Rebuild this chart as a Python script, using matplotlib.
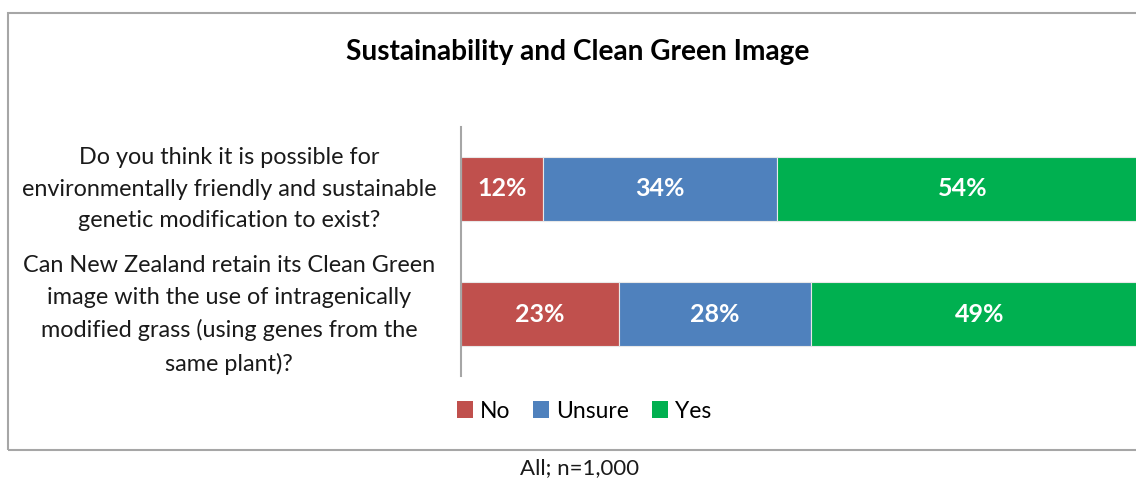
import matplotlib.pyplot as plt
from matplotlib.patches import Rectangle, Patch

plt.rcParams['font.family'] = ['Lato', 'DejaVu Sans']

questions = [
    "Do you think it is possible for\nenvironmentally friendly and sustainable\ngenetic modification to exist?",
    "Can New Zealand retain its Clean Green\nimage with the use of intragenically\nmodified grass (using genes from the\nsame plant)?",
]
series_names = ["No", "Unsure", "Yes"]
no = [12, 23]
unsure = [34, 28]
yes = [54, 49]
colors = ["#C0504D", "#4F81BD", "#00B050"]

W, H = 1136, 480
fig = plt.figure(figsize=(W / 100, H / 100), dpi=100)

# outer frame (right side runs off the picture, like the source)
fig.patches.append(Rectangle((8 / W, 1 - 450 / H), 1.2, 437 / H, transform=fig.transFigure,
                             fill=False, edgecolor="#a6a6a6", linewidth=1.5, clip_on=False))

ax = fig.add_axes([461 / W, 1 - 376 / H, 687 / W, 249 / H])
ypos = list(range(len(questions)))
left = [0] * len(questions)
for name, vals, c in zip(series_names, [no, unsure, yes], colors):
    bars = ax.barh(ypos, vals, left=left, height=0.512, color=c, edgecolor="#e8e8e8",
                   linewidth=0.8, label=name)
    for b, v in zip(bars, vals):
        ax.text(b.get_x() + b.get_width() / 2, b.get_y() + b.get_height() / 2, f"{v}%",
                ha="center", va="center", color="white", fontsize=18, fontweight="bold")
    left = [l + v for l, v in zip(left, vals)]

ax.set_xlim(0, 100)
ax.set_ylim(1.5 - 0.004, -0.5 + 0.004)
ax.set_xticks([])
ax.set_yticks([])
for s in ["top", "right", "bottom"]:
    ax.spines[s].set_visible(False)
ax.spines["left"].set_color("#a6a6a6")
ax.spines["left"].set_linewidth(1.5)

# category labels, centred blocks like the source
for y, q in zip([189, 315], questions):
    fig.text(229 / W, 1 - y / H, q, ha="center", va="center", fontsize=16.8,
             linespacing=1.62, color="#1a1a1a")

fig.text(578 / W, 1 - 52 / H, "Sustainability and Clean Green Image", ha="center", va="center",
         fontsize=20.2, fontweight="bold", color="black")

handles = [Patch(facecolor=c, label=n) for n, c in zip(series_names, colors)]
fig.legend(handles=handles, loc="center", bbox_to_anchor=(584 / W, 1 - 411 / H), ncol=3,
           frameon=False, fontsize=16.5, handlelength=0.7, handleheight=0.7,
           handletextpad=0.3, columnspacing=1.0)

fig.text(580 / W, 1 - 468 / H, "All; n=1,000", ha="center", va="center", fontsize=16,
         color="#1a1a1a")

fig.savefig("out.png", dpi=100)
